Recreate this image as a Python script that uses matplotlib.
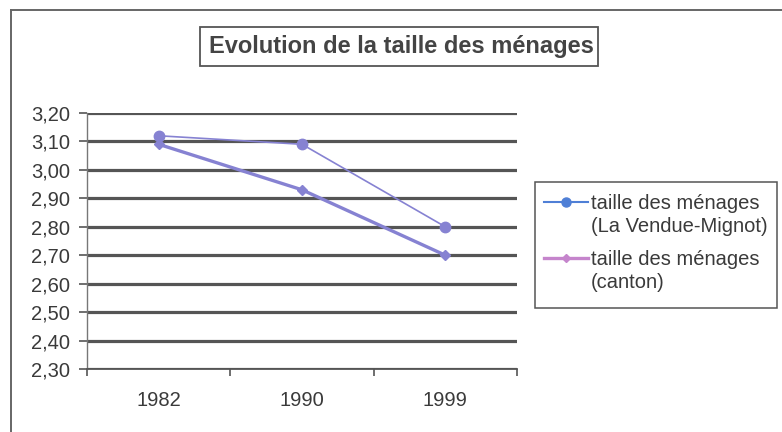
#!/usr/bin/env python3
# Evolution de la taille des ménages - line chart

import numpy as np
import matplotlib
matplotlib.use('Agg')
import matplotlib.pyplot as plt
from matplotlib.lines import Line2D
from matplotlib.patches import Rectangle
from matplotlib.ticker import MultipleLocator, FuncFormatter

# Data
years = ['1982', '1990', '1999']
vendue_mignot = [3.12, 3.09, 2.80]
canton = [3.09, 2.93, 2.70]
series_labels = ['taille des ménages\n(La Vendue-Mignot)',
                 'taille des ménages\n(canton)']
title = 'Evolution de la taille des ménages'

plt.rcParams['font.family'] = ['Liberation Sans', 'DejaVu Sans']
text_color = '#3a3a3a'
grid_color = '#555555'
line_color = '#8682d2'

fig = plt.figure(figsize=(7.82, 4.32), dpi=100)
W, H = 782, 432


def fx(px):
    return px / W


def fy(py):
    return 1 - py / H


# Outer chart frame (cut at right and bottom)
fig.add_artist(Line2D([fx(11), 1], [fy(9.5), fy(9.5)], color='#666666', lw=1.4))
fig.add_artist(Line2D([fx(11), fx(11)], [fy(9.5), 0], color='#666666', lw=1.4))

# Plot area
ax = fig.add_axes([fx(87), fy(369), fx(517) - fx(87), fy(113) - fy(369)])
x = np.arange(len(years)) + 0.5
ax.plot(x, vendue_mignot, color=line_color, lw=1.2, marker='o', ms=7.5,
        zorder=3, clip_on=False)
ax.plot(x, canton, color=line_color, lw=2.4, marker='D', ms=5,
        zorder=3, clip_on=False)

ax.set_xlim(0, len(years))
ax.set_ylim(2.30, 3.20)
ax.yaxis.set_major_locator(MultipleLocator(0.1))
ax.yaxis.set_major_formatter(
    FuncFormatter(lambda v, _: f'{v:.2f}'.replace('.', ',')))
ax.grid(axis='y', color=grid_color, lw=2.3)
ax.set_axisbelow(True)

ax.set_xticks(np.arange(len(years) + 1))
ax.set_xticklabels([])
ax.set_xticks(x, minor=True)
ax.set_xticklabels(years, minor=True)
ax.tick_params(axis='x', which='minor', length=0, pad=16, labelsize=14.5,
               labelcolor=text_color)
ax.tick_params(axis='x', which='major', length=5, color=grid_color, width=1.2)
ax.tick_params(axis='y', length=6, color=grid_color, width=1.2, pad=6,
               labelsize=14.5, labelcolor=text_color)

for s in ['top', 'right']:
    ax.spines[s].set_visible(False)
ax.spines['left'].set_color('#777777')
ax.spines['left'].set_linewidth(1.0)
ax.spines['bottom'].set_color(grid_color)
ax.spines['bottom'].set_linewidth(1.3)

# Title box
fig.add_artist(Rectangle((fx(200), fy(66)), fx(598) - fx(200), fy(27) - fy(66),
                         transform=fig.transFigure, fill=False,
                         edgecolor='#555555', lw=1.3))
fig.text(fx(401), fy(46.5), title, ha='center', va='center',
         fontsize=17, fontweight='bold', color='#444444')

# Legend box
fig.add_artist(Rectangle((fx(535), fy(308)), fx(777) - fx(535), fy(182) - fy(308),
                         transform=fig.transFigure, fill=False,
                         edgecolor='#555555', lw=1.1))
legend_styles = [
    dict(color='#4f7fd6', lw=1.5, marker='o', ms=6.5),
    dict(color='#c585cc', lw=2.4, marker='D', ms=4.5),
]
for i, (lab, style) in enumerate(zip(series_labels, legend_styles)):
    yy = 202 + i * 56
    fig.add_artist(Line2D([fx(544), fx(566), fx(588)], [fy(yy)] * 3,
                          markevery=[1], **style))
    fig.text(fx(591), fy(yy - 8), lab, ha='left', va='top',
             fontsize=14.5, color=text_color, linespacing=1.25)

fig.savefig('out.png', dpi=100)
